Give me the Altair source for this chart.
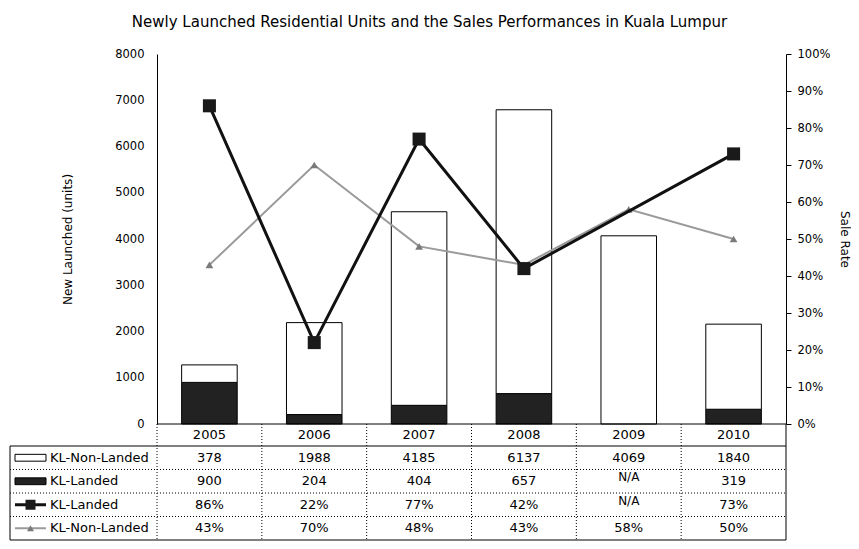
import altair as alt
import pandas as pd

# ---------------- data ----------------
years = ["2005", "2006", "2007", "2008", "2009", "2010"]
non_landed_units = [378, 1988, 4185, 6137, 4069, 1840]
landed_units = [900, 204, 404, 657, None, 319]
landed_rate = [0.86, 0.22, 0.77, 0.42, None, 0.73]
non_landed_rate = [0.43, 0.70, 0.48, 0.43, 0.58, 0.50]
row_labels = ["KL-Non-Landed", "KL-Landed", "KL-Landed", "KL-Non-Landed"]
title_text = "Newly Launched Residential Units and the Sales Performances in Kuala Lumpur"
left_title = "New Launched (units)"
right_title = "Sale Rate"
left_ticks = [0, 1000, 2000, 3000, 4000, 5000, 6000, 7000, 8000]
right_ticks = [0, 0.1, 0.2, 0.3, 0.4, 0.5, 0.6, 0.7, 0.8, 0.9, 1.0]

# ---------------- layout constants ----------------
FONT = "DejaVu Sans"
W, H = 629, 370
STEP = W / len(years)
TABLE_LEFT = -147
YEAR_ROW_BOTTOM = H + 22
ROW_H = 23.5
row_tops = [YEAR_ROW_BOTTOM + i * ROW_H for i in range(4)]
TABLE_BOTTOM = YEAR_ROW_BOTTOM + 4 * ROW_H
row_centers = [t + ROW_H / 2 for t in row_tops]
year_center = (H + YEAR_ROW_BOTTOM) / 2

xenc = alt.X("year:N", scale=alt.Scale(domain=years, paddingInner=0.47, paddingOuter=0.235), axis=None)

# ---------------- bars ----------------
bar_rows = []
for y, l, n in zip(years, landed_units, non_landed_units):
    if l is not None:
        bar_rows.append({"year": y, "type": "Landed", "units": l, "ord": 0})
    bar_rows.append({"year": y, "type": "Non-Landed", "units": n, "ord": 1})
bars_df = pd.DataFrame(bar_rows)

bars = alt.Chart(bars_df).mark_bar(stroke="black", strokeWidth=1).encode(
    x=xenc,
    y=alt.Y("units:Q", stack="zero", scale=alt.Scale(domain=[0, 8000]),
            axis=alt.Axis(values=left_ticks, format="d", title=left_title, ticks=False, labelPadding=13,
                          titlePadding=40, grid=False, domainColor="black", labelColor="black",
                          labelFontSize=11.5, titleFontSize=12, titleFontWeight="normal")),
    fill=alt.Fill("type:N", scale=alt.Scale(domain=["Landed", "Non-Landed"], range=["#222222", "#ffffff"]), legend=None),
    order=alt.Order("ord:Q", sort="ascending"),
)

# ---------------- lines ----------------
landed_df = pd.DataFrame([{"year": y, "rate": r} for y, r in zip(years, landed_rate) if r is not None])
nonlanded_df = pd.DataFrame({"year": years, "rate": non_landed_rate})

raxis = alt.Axis(orient="right", format=".0%", values=right_ticks, title=right_title, titleAngle=90,
                 tickSize=5, labelPadding=6, titlePadding=8, grid=False, domainColor="black",
                 tickColor="black", labelColor="black", labelFontSize=11.5, titleFontSize=12,
                 titleFontWeight="normal")
yr = alt.Y("rate:Q", scale=alt.Scale(domain=[0, 1]), axis=raxis)

nl_line = alt.Chart(nonlanded_df).mark_line(color="#9a9a9a", strokeWidth=2).encode(x=xenc, y=yr)
nl_pts = alt.Chart(nonlanded_df).mark_point(shape="triangle-up", filled=True, size=60, color="#7a7a7a", opacity=1).encode(x=xenc, y=yr)
l_line = alt.Chart(landed_df).mark_line(color="#111111", strokeWidth=3).encode(x=xenc, y=yr)
l_pts = alt.Chart(landed_df).mark_point(shape="square", filled=True, size=170, color="#1a1a1a", opacity=1).encode(x=xenc, y=yr)
lines = alt.layer(nl_line, nl_pts, l_line, l_pts)

# ---------------- table ----------------
deco = pd.DataFrame({"k": [0]})


def hrule(y, x1, x2, dashed=False):
    kw = {"strokeDash": [1, 2]} if dashed else {}
    return alt.Chart(deco).mark_rule(color="black", strokeWidth=1, **kw).encode(
        x=alt.value(x1), x2=alt.value(x2), y=alt.value(y))


def vrule(x, y1, y2, dashed=False):
    kw = {"strokeDash": [1, 2]} if dashed else {}
    return alt.Chart(deco).mark_rule(color="black", strokeWidth=1, **kw).encode(
        x=alt.value(x), y=alt.value(y1), y2=alt.value(y2))


grid = [
    hrule(H, 0, W),
    hrule(YEAR_ROW_BOTTOM, TABLE_LEFT, W),
    hrule(row_tops[1], TABLE_LEFT, W, True),
    hrule(row_tops[2], TABLE_LEFT, W, True),
    hrule(row_tops[3], TABLE_LEFT, W, True),
    hrule(TABLE_BOTTOM, TABLE_LEFT, W),
    vrule(TABLE_LEFT, YEAR_ROW_BOTTOM, TABLE_BOTTOM),
    vrule(0, H, TABLE_BOTTOM, True),
    vrule(W, H, TABLE_BOTTOM),
]
for i in range(1, len(years)):
    grid.append(vrule(i * STEP, H, TABLE_BOTTOM, True))


def fmt_units(v):
    return "N/A" if v is None else str(v)


def fmt_rate(v):
    return "N/A" if v is None else f"{round(v * 100)}%"


table_rows = [
    (year_center, years),
    (row_centers[0], [fmt_units(v) for v in non_landed_units]),
    (row_centers[1], [fmt_units(v) for v in landed_units]),
    (row_centers[2], [fmt_rate(v) for v in landed_rate]),
    (row_centers[3], [fmt_rate(v) for v in non_landed_rate]),
]
texts = []
for yc, labels in table_rows:
    df = pd.DataFrame({"year": years, "label": labels})
    normal = df[df["label"] != "N/A"]
    na = df[df["label"] == "N/A"]
    texts.append(alt.Chart(normal).mark_text(font=FONT, fontSize=13, baseline="middle", color="black").encode(
        x=xenc, y=alt.value(yc), text="label:N"))
    if len(na):
        texts.append(alt.Chart(na).mark_text(font=FONT, fontSize=12, baseline="middle", color="black", dy=-4).encode(
            x=xenc, y=alt.value(yc), text="label:N"))

# legend column
SYM_X = -126.5
LABEL_X = -107
rect_path = "M-1,-0.22H1V0.22H-1Z"
legend = []
for yc, lab in zip(row_centers, row_labels):
    legend.append(alt.Chart(deco).mark_text(font=FONT, fontSize=13, align="left", baseline="middle", color="black", text=lab).encode(
        x=alt.value(LABEL_X), y=alt.value(yc)))
legend.append(alt.Chart(deco).mark_point(shape=rect_path, size=31 * 31, filled=True, fill="white", stroke="black", strokeWidth=1, opacity=1).encode(
    x=alt.value(SYM_X), y=alt.value(row_centers[0])))
legend.append(alt.Chart(deco).mark_point(shape=rect_path, size=31 * 31, filled=True, fill="#222222", stroke="black", strokeWidth=1, opacity=1).encode(
    x=alt.value(SYM_X), y=alt.value(row_centers[1])))
legend.append(alt.Chart(deco).mark_rule(color="#111111", strokeWidth=3).encode(
    x=alt.value(SYM_X - 15.5), x2=alt.value(SYM_X + 15.5), y=alt.value(row_centers[2])))
legend.append(alt.Chart(deco).mark_point(shape="square", filled=True, size=100, color="#1a1a1a", opacity=1).encode(
    x=alt.value(SYM_X), y=alt.value(row_centers[2])))
legend.append(alt.Chart(deco).mark_rule(color="#9a9a9a", strokeWidth=2).encode(
    x=alt.value(SYM_X - 15.5), x2=alt.value(SYM_X + 15.5), y=alt.value(row_centers[3])))
legend.append(alt.Chart(deco).mark_point(shape="triangle-up", filled=True, size=50, color="#7a7a7a", opacity=1).encode(
    x=alt.value(SYM_X), y=alt.value(row_centers[3])))

chart = alt.layer(bars, lines, *grid, *texts, *legend).resolve_scale(y="independent").properties(
    width=W, height=H,
    padding={"left": 149, "top": 46, "right": 65, "bottom": 117},
    autosize=alt.AutoSizeParams(type="none"),
    title=alt.TitleParams(title_text, anchor="middle", frame="group", dx=-42, offset=18,
                          font=FONT, fontSize=15, fontWeight="normal", color="black"),
).configure_view(stroke=None).configure_axis(labelFont=FONT, titleFont=FONT)

chart.save("out.html", embed_options={"renderer": "svg", "actions": False})
